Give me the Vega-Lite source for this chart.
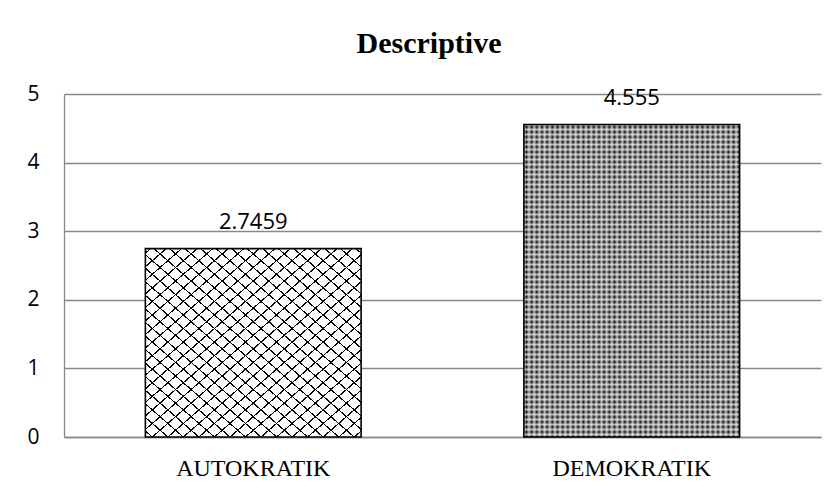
{
"$schema":"https://vega.github.io/schema/vega-lite/v6.json",
"width":757,"height":343,
"autosize":{"type":"none"},
"padding":{"left":64,"top":94,"right":16,"bottom":59},
"background":"#ffffff",
"title":{"text":"Descriptive","font":"Liberation Serif","fontSize":30,"fontWeight":"bold","color":"#000000","anchor":"middle","frame":"bounds","baseline":"alphabetic","offset":0,"dx":5},
"config":{"view":{"stroke":null}},
"data":{"values":[{"category":"AUTOKRATIK","value":2.7459},{"category":"DEMOKRATIK","value":4.555}]},
"encoding":{
"x":{"field":"category","type":"nominal","sort":["AUTOKRATIK","DEMOKRATIK"],"scale":{"paddingInner":0.43,"paddingOuter":0.215},"axis":{"title":null,"labelAngle":0,"labelFont":"Liberation Serif","labelFontSize":24,"labelColor":"#000000","labelPadding":19,"ticks":false,"domainColor":"#898989","domainWidth":1.3,"grid":false}},
"y":{"field":"value","type":"quantitative","scale":{"domain":[0,5],"nice":false},"axis":{"title":null,"values":[0,1,2,3,4,5],"labelFont":"Open Sans","labelFontSize":21,"labelColor":"#000000","labelPadding":25,"ticks":false,"domainColor":"#898989","domainWidth":1.3,"grid":true,"gridColor":"#898989","gridWidth":1.3}}
},
"layer":[
{"mark":{"type":"bar"},"encoding":{"color":{"field":"category","type":"nominal","scale":{"domain":["AUTOKRATIK","DEMOKRATIK"],"range":["#ffffff","#000000"]},"legend":null}}},
{"transform":[{"filter":"datum.category === 'AUTOKRATIK'"}],"mark":{"type":"bar","fill":{"gradient":"linear","x1":0,"y1":0,"x2":1,"y2":1,"stops":[
{"offset":0.01,"color":"transparent"},{"offset":0.01,"color":"#000"},{"offset":0.014,"color":"#000"},{"offset":0.014,"color":"transparent"},
{"offset":0.046,"color":"transparent"},{"offset":0.046,"color":"#000"},{"offset":0.05,"color":"#000"},{"offset":0.05,"color":"transparent"},
{"offset":0.082,"color":"transparent"},{"offset":0.082,"color":"#000"},{"offset":0.086,"color":"#000"},{"offset":0.086,"color":"transparent"},
{"offset":0.118,"color":"transparent"},{"offset":0.118,"color":"#000"},{"offset":0.122,"color":"#000"},{"offset":0.122,"color":"transparent"},
{"offset":0.154,"color":"transparent"},{"offset":0.154,"color":"#000"},{"offset":0.158,"color":"#000"},{"offset":0.158,"color":"transparent"},
{"offset":0.19,"color":"transparent"},{"offset":0.19,"color":"#000"},{"offset":0.194,"color":"#000"},{"offset":0.194,"color":"transparent"},
{"offset":0.226,"color":"transparent"},{"offset":0.226,"color":"#000"},{"offset":0.23,"color":"#000"},{"offset":0.23,"color":"transparent"},
{"offset":0.262,"color":"transparent"},{"offset":0.262,"color":"#000"},{"offset":0.266,"color":"#000"},{"offset":0.266,"color":"transparent"},
{"offset":0.298,"color":"transparent"},{"offset":0.298,"color":"#000"},{"offset":0.302,"color":"#000"},{"offset":0.302,"color":"transparent"},
{"offset":0.334,"color":"transparent"},{"offset":0.334,"color":"#000"},{"offset":0.338,"color":"#000"},{"offset":0.338,"color":"transparent"},
{"offset":0.37,"color":"transparent"},{"offset":0.37,"color":"#000"},{"offset":0.374,"color":"#000"},{"offset":0.374,"color":"transparent"},
{"offset":0.406,"color":"transparent"},{"offset":0.406,"color":"#000"},{"offset":0.41,"color":"#000"},{"offset":0.41,"color":"transparent"},
{"offset":0.442,"color":"transparent"},{"offset":0.442,"color":"#000"},{"offset":0.446,"color":"#000"},{"offset":0.446,"color":"transparent"},
{"offset":0.478,"color":"transparent"},{"offset":0.478,"color":"#000"},{"offset":0.482,"color":"#000"},{"offset":0.482,"color":"transparent"},
{"offset":0.514,"color":"transparent"},{"offset":0.514,"color":"#000"},{"offset":0.518,"color":"#000"},{"offset":0.518,"color":"transparent"},
{"offset":0.55,"color":"transparent"},{"offset":0.55,"color":"#000"},{"offset":0.554,"color":"#000"},{"offset":0.554,"color":"transparent"},
{"offset":0.586,"color":"transparent"},{"offset":0.586,"color":"#000"},{"offset":0.59,"color":"#000"},{"offset":0.59,"color":"transparent"},
{"offset":0.622,"color":"transparent"},{"offset":0.622,"color":"#000"},{"offset":0.626,"color":"#000"},{"offset":0.626,"color":"transparent"},
{"offset":0.658,"color":"transparent"},{"offset":0.658,"color":"#000"},{"offset":0.662,"color":"#000"},{"offset":0.662,"color":"transparent"},
{"offset":0.694,"color":"transparent"},{"offset":0.694,"color":"#000"},{"offset":0.698,"color":"#000"},{"offset":0.698,"color":"transparent"},
{"offset":0.73,"color":"transparent"},{"offset":0.73,"color":"#000"},{"offset":0.734,"color":"#000"},{"offset":0.734,"color":"transparent"},
{"offset":0.766,"color":"transparent"},{"offset":0.766,"color":"#000"},{"offset":0.77,"color":"#000"},{"offset":0.77,"color":"transparent"},
{"offset":0.802,"color":"transparent"},{"offset":0.802,"color":"#000"},{"offset":0.806,"color":"#000"},{"offset":0.806,"color":"transparent"},
{"offset":0.838,"color":"transparent"},{"offset":0.838,"color":"#000"},{"offset":0.842,"color":"#000"},{"offset":0.842,"color":"transparent"},
{"offset":0.874,"color":"transparent"},{"offset":0.874,"color":"#000"},{"offset":0.878,"color":"#000"},{"offset":0.878,"color":"transparent"},
{"offset":0.91,"color":"transparent"},{"offset":0.91,"color":"#000"},{"offset":0.914,"color":"#000"},{"offset":0.914,"color":"transparent"},
{"offset":0.946,"color":"transparent"},{"offset":0.946,"color":"#000"},{"offset":0.95,"color":"#000"},{"offset":0.95,"color":"transparent"},
{"offset":0.982,"color":"transparent"},{"offset":0.982,"color":"#000"},{"offset":0.986,"color":"#000"},{"offset":0.986,"color":"transparent"}
]}}},
{"transform":[{"filter":"datum.category === 'AUTOKRATIK'"}],"mark":{"type":"bar","fill":{"gradient":"linear","x1":1,"y1":0,"x2":0,"y2":1,"stops":[
{"offset":0.01,"color":"transparent"},{"offset":0.01,"color":"#000"},{"offset":0.014,"color":"#000"},{"offset":0.014,"color":"transparent"},
{"offset":0.046,"color":"transparent"},{"offset":0.046,"color":"#000"},{"offset":0.05,"color":"#000"},{"offset":0.05,"color":"transparent"},
{"offset":0.082,"color":"transparent"},{"offset":0.082,"color":"#000"},{"offset":0.086,"color":"#000"},{"offset":0.086,"color":"transparent"},
{"offset":0.118,"color":"transparent"},{"offset":0.118,"color":"#000"},{"offset":0.122,"color":"#000"},{"offset":0.122,"color":"transparent"},
{"offset":0.154,"color":"transparent"},{"offset":0.154,"color":"#000"},{"offset":0.158,"color":"#000"},{"offset":0.158,"color":"transparent"},
{"offset":0.19,"color":"transparent"},{"offset":0.19,"color":"#000"},{"offset":0.194,"color":"#000"},{"offset":0.194,"color":"transparent"},
{"offset":0.226,"color":"transparent"},{"offset":0.226,"color":"#000"},{"offset":0.23,"color":"#000"},{"offset":0.23,"color":"transparent"},
{"offset":0.262,"color":"transparent"},{"offset":0.262,"color":"#000"},{"offset":0.266,"color":"#000"},{"offset":0.266,"color":"transparent"},
{"offset":0.298,"color":"transparent"},{"offset":0.298,"color":"#000"},{"offset":0.302,"color":"#000"},{"offset":0.302,"color":"transparent"},
{"offset":0.334,"color":"transparent"},{"offset":0.334,"color":"#000"},{"offset":0.338,"color":"#000"},{"offset":0.338,"color":"transparent"},
{"offset":0.37,"color":"transparent"},{"offset":0.37,"color":"#000"},{"offset":0.374,"color":"#000"},{"offset":0.374,"color":"transparent"},
{"offset":0.406,"color":"transparent"},{"offset":0.406,"color":"#000"},{"offset":0.41,"color":"#000"},{"offset":0.41,"color":"transparent"},
{"offset":0.442,"color":"transparent"},{"offset":0.442,"color":"#000"},{"offset":0.446,"color":"#000"},{"offset":0.446,"color":"transparent"},
{"offset":0.478,"color":"transparent"},{"offset":0.478,"color":"#000"},{"offset":0.482,"color":"#000"},{"offset":0.482,"color":"transparent"},
{"offset":0.514,"color":"transparent"},{"offset":0.514,"color":"#000"},{"offset":0.518,"color":"#000"},{"offset":0.518,"color":"transparent"},
{"offset":0.55,"color":"transparent"},{"offset":0.55,"color":"#000"},{"offset":0.554,"color":"#000"},{"offset":0.554,"color":"transparent"},
{"offset":0.586,"color":"transparent"},{"offset":0.586,"color":"#000"},{"offset":0.59,"color":"#000"},{"offset":0.59,"color":"transparent"},
{"offset":0.622,"color":"transparent"},{"offset":0.622,"color":"#000"},{"offset":0.626,"color":"#000"},{"offset":0.626,"color":"transparent"},
{"offset":0.658,"color":"transparent"},{"offset":0.658,"color":"#000"},{"offset":0.662,"color":"#000"},{"offset":0.662,"color":"transparent"},
{"offset":0.694,"color":"transparent"},{"offset":0.694,"color":"#000"},{"offset":0.698,"color":"#000"},{"offset":0.698,"color":"transparent"},
{"offset":0.73,"color":"transparent"},{"offset":0.73,"color":"#000"},{"offset":0.734,"color":"#000"},{"offset":0.734,"color":"transparent"},
{"offset":0.766,"color":"transparent"},{"offset":0.766,"color":"#000"},{"offset":0.77,"color":"#000"},{"offset":0.77,"color":"transparent"},
{"offset":0.802,"color":"transparent"},{"offset":0.802,"color":"#000"},{"offset":0.806,"color":"#000"},{"offset":0.806,"color":"transparent"},
{"offset":0.838,"color":"transparent"},{"offset":0.838,"color":"#000"},{"offset":0.842,"color":"#000"},{"offset":0.842,"color":"transparent"},
{"offset":0.874,"color":"transparent"},{"offset":0.874,"color":"#000"},{"offset":0.878,"color":"#000"},{"offset":0.878,"color":"transparent"},
{"offset":0.91,"color":"transparent"},{"offset":0.91,"color":"#000"},{"offset":0.914,"color":"#000"},{"offset":0.914,"color":"transparent"},
{"offset":0.946,"color":"transparent"},{"offset":0.946,"color":"#000"},{"offset":0.95,"color":"#000"},{"offset":0.95,"color":"transparent"},
{"offset":0.982,"color":"transparent"},{"offset":0.982,"color":"#000"},{"offset":0.986,"color":"#000"},{"offset":0.986,"color":"transparent"}
]}}},
{"transform":[{"filter":"datum.category === 'DEMOKRATIK'"}],"mark":{"type":"bar","fill":{"gradient":"linear","x1":0,"y1":0,"x2":0,"y2":1,"stops":[
{"offset":0,"color":"rgba(255,255,255,0.68)"},{"offset":0.008,"color":"rgba(255,255,255,0)"},{"offset":0.016,"color":"rgba(255,255,255,0.68)"},{"offset":0.024,"color":"rgba(255,255,255,0)"},
{"offset":0.032,"color":"rgba(255,255,255,0.68)"},{"offset":0.04,"color":"rgba(255,255,255,0)"},{"offset":0.048,"color":"rgba(255,255,255,0.68)"},{"offset":0.056,"color":"rgba(255,255,255,0)"},
{"offset":0.064,"color":"rgba(255,255,255,0.68)"},{"offset":0.072,"color":"rgba(255,255,255,0)"},{"offset":0.08,"color":"rgba(255,255,255,0.68)"},{"offset":0.088,"color":"rgba(255,255,255,0)"},
{"offset":0.096,"color":"rgba(255,255,255,0.68)"},{"offset":0.104,"color":"rgba(255,255,255,0)"},{"offset":0.112,"color":"rgba(255,255,255,0.68)"},{"offset":0.12,"color":"rgba(255,255,255,0)"},
{"offset":0.128,"color":"rgba(255,255,255,0.68)"},{"offset":0.136,"color":"rgba(255,255,255,0)"},{"offset":0.144,"color":"rgba(255,255,255,0.68)"},{"offset":0.152,"color":"rgba(255,255,255,0)"},
{"offset":0.16,"color":"rgba(255,255,255,0.68)"},{"offset":0.168,"color":"rgba(255,255,255,0)"},{"offset":0.176,"color":"rgba(255,255,255,0.68)"},{"offset":0.184,"color":"rgba(255,255,255,0)"},
{"offset":0.192,"color":"rgba(255,255,255,0.68)"},{"offset":0.2,"color":"rgba(255,255,255,0)"},{"offset":0.208,"color":"rgba(255,255,255,0.68)"},{"offset":0.216,"color":"rgba(255,255,255,0)"},
{"offset":0.224,"color":"rgba(255,255,255,0.68)"},{"offset":0.232,"color":"rgba(255,255,255,0)"},{"offset":0.24,"color":"rgba(255,255,255,0.68)"},{"offset":0.248,"color":"rgba(255,255,255,0)"},
{"offset":0.256,"color":"rgba(255,255,255,0.68)"},{"offset":0.264,"color":"rgba(255,255,255,0)"},{"offset":0.272,"color":"rgba(255,255,255,0.68)"},{"offset":0.28,"color":"rgba(255,255,255,0)"},
{"offset":0.288,"color":"rgba(255,255,255,0.68)"},{"offset":0.296,"color":"rgba(255,255,255,0)"},{"offset":0.304,"color":"rgba(255,255,255,0.68)"},{"offset":0.312,"color":"rgba(255,255,255,0)"},
{"offset":0.32,"color":"rgba(255,255,255,0.68)"},{"offset":0.328,"color":"rgba(255,255,255,0)"},{"offset":0.336,"color":"rgba(255,255,255,0.68)"},{"offset":0.344,"color":"rgba(255,255,255,0)"},
{"offset":0.352,"color":"rgba(255,255,255,0.68)"},{"offset":0.36,"color":"rgba(255,255,255,0)"},{"offset":0.368,"color":"rgba(255,255,255,0.68)"},{"offset":0.376,"color":"rgba(255,255,255,0)"},
{"offset":0.384,"color":"rgba(255,255,255,0.68)"},{"offset":0.392,"color":"rgba(255,255,255,0)"},{"offset":0.4,"color":"rgba(255,255,255,0.68)"},{"offset":0.408,"color":"rgba(255,255,255,0)"},
{"offset":0.416,"color":"rgba(255,255,255,0.68)"},{"offset":0.424,"color":"rgba(255,255,255,0)"},{"offset":0.432,"color":"rgba(255,255,255,0.68)"},{"offset":0.44,"color":"rgba(255,255,255,0)"},
{"offset":0.448,"color":"rgba(255,255,255,0.68)"},{"offset":0.456,"color":"rgba(255,255,255,0)"},{"offset":0.464,"color":"rgba(255,255,255,0.68)"},{"offset":0.472,"color":"rgba(255,255,255,0)"},
{"offset":0.48,"color":"rgba(255,255,255,0.68)"},{"offset":0.488,"color":"rgba(255,255,255,0)"},{"offset":0.496,"color":"rgba(255,255,255,0.68)"},{"offset":0.504,"color":"rgba(255,255,255,0)"},
{"offset":0.512,"color":"rgba(255,255,255,0.68)"},{"offset":0.52,"color":"rgba(255,255,255,0)"},{"offset":0.528,"color":"rgba(255,255,255,0.68)"},{"offset":0.536,"color":"rgba(255,255,255,0)"},
{"offset":0.544,"color":"rgba(255,255,255,0.68)"},{"offset":0.552,"color":"rgba(255,255,255,0)"},{"offset":0.56,"color":"rgba(255,255,255,0.68)"},{"offset":0.568,"color":"rgba(255,255,255,0)"},
{"offset":0.576,"color":"rgba(255,255,255,0.68)"},{"offset":0.584,"color":"rgba(255,255,255,0)"},{"offset":0.592,"color":"rgba(255,255,255,0.68)"},{"offset":0.6,"color":"rgba(255,255,255,0)"},
{"offset":0.608,"color":"rgba(255,255,255,0.68)"},{"offset":0.616,"color":"rgba(255,255,255,0)"},{"offset":0.624,"color":"rgba(255,255,255,0.68)"},{"offset":0.632,"color":"rgba(255,255,255,0)"},
{"offset":0.64,"color":"rgba(255,255,255,0.68)"},{"offset":0.648,"color":"rgba(255,255,255,0)"},{"offset":0.656,"color":"rgba(255,255,255,0.68)"},{"offset":0.664,"color":"rgba(255,255,255,0)"},
{"offset":0.672,"color":"rgba(255,255,255,0.68)"},{"offset":0.68,"color":"rgba(255,255,255,0)"},{"offset":0.688,"color":"rgba(255,255,255,0.68)"},{"offset":0.696,"color":"rgba(255,255,255,0)"},
{"offset":0.704,"color":"rgba(255,255,255,0.68)"},{"offset":0.712,"color":"rgba(255,255,255,0)"},{"offset":0.72,"color":"rgba(255,255,255,0.68)"},{"offset":0.728,"color":"rgba(255,255,255,0)"},
{"offset":0.736,"color":"rgba(255,255,255,0.68)"},{"offset":0.744,"color":"rgba(255,255,255,0)"},{"offset":0.752,"color":"rgba(255,255,255,0.68)"},{"offset":0.76,"color":"rgba(255,255,255,0)"},
{"offset":0.768,"color":"rgba(255,255,255,0.68)"},{"offset":0.776,"color":"rgba(255,255,255,0)"},{"offset":0.784,"color":"rgba(255,255,255,0.68)"},{"offset":0.792,"color":"rgba(255,255,255,0)"},
{"offset":0.8,"color":"rgba(255,255,255,0.68)"},{"offset":0.808,"color":"rgba(255,255,255,0)"},{"offset":0.816,"color":"rgba(255,255,255,0.68)"},{"offset":0.824,"color":"rgba(255,255,255,0)"},
{"offset":0.832,"color":"rgba(255,255,255,0.68)"},{"offset":0.84,"color":"rgba(255,255,255,0)"},{"offset":0.848,"color":"rgba(255,255,255,0.68)"},{"offset":0.856,"color":"rgba(255,255,255,0)"},
{"offset":0.864,"color":"rgba(255,255,255,0.68)"},{"offset":0.872,"color":"rgba(255,255,255,0)"},{"offset":0.88,"color":"rgba(255,255,255,0.68)"},{"offset":0.888,"color":"rgba(255,255,255,0)"},
{"offset":0.896,"color":"rgba(255,255,255,0.68)"},{"offset":0.904,"color":"rgba(255,255,255,0)"},{"offset":0.912,"color":"rgba(255,255,255,0.68)"},{"offset":0.92,"color":"rgba(255,255,255,0)"},
{"offset":0.928,"color":"rgba(255,255,255,0.68)"},{"offset":0.936,"color":"rgba(255,255,255,0)"},{"offset":0.944,"color":"rgba(255,255,255,0.68)"},{"offset":0.952,"color":"rgba(255,255,255,0)"},
{"offset":0.96,"color":"rgba(255,255,255,0.68)"},{"offset":0.968,"color":"rgba(255,255,255,0)"},{"offset":0.976,"color":"rgba(255,255,255,0.68)"},{"offset":0.984,"color":"rgba(255,255,255,0)"},
{"offset":0.992,"color":"rgba(255,255,255,0.68)"},{"offset":1,"color":"rgba(255,255,255,0)"}
]}}},
{"transform":[{"filter":"datum.category === 'DEMOKRATIK'"}],"mark":{"type":"bar","fill":{"gradient":"linear","x1":0,"y1":0,"x2":1,"y2":0,"stops":[
{"offset":0,"color":"rgba(255,255,255,0.68)"},{"offset":0.012,"color":"rgba(255,255,255,0)"},{"offset":0.024,"color":"rgba(255,255,255,0.68)"},{"offset":0.036,"color":"rgba(255,255,255,0)"},
{"offset":0.048,"color":"rgba(255,255,255,0.68)"},{"offset":0.06,"color":"rgba(255,255,255,0)"},{"offset":0.072,"color":"rgba(255,255,255,0.68)"},{"offset":0.084,"color":"rgba(255,255,255,0)"},
{"offset":0.096,"color":"rgba(255,255,255,0.68)"},{"offset":0.108,"color":"rgba(255,255,255,0)"},{"offset":0.12,"color":"rgba(255,255,255,0.68)"},{"offset":0.132,"color":"rgba(255,255,255,0)"},
{"offset":0.144,"color":"rgba(255,255,255,0.68)"},{"offset":0.156,"color":"rgba(255,255,255,0)"},{"offset":0.168,"color":"rgba(255,255,255,0.68)"},{"offset":0.18,"color":"rgba(255,255,255,0)"},
{"offset":0.192,"color":"rgba(255,255,255,0.68)"},{"offset":0.204,"color":"rgba(255,255,255,0)"},{"offset":0.216,"color":"rgba(255,255,255,0.68)"},{"offset":0.228,"color":"rgba(255,255,255,0)"},
{"offset":0.24,"color":"rgba(255,255,255,0.68)"},{"offset":0.252,"color":"rgba(255,255,255,0)"},{"offset":0.264,"color":"rgba(255,255,255,0.68)"},{"offset":0.276,"color":"rgba(255,255,255,0)"},
{"offset":0.288,"color":"rgba(255,255,255,0.68)"},{"offset":0.3,"color":"rgba(255,255,255,0)"},{"offset":0.312,"color":"rgba(255,255,255,0.68)"},{"offset":0.324,"color":"rgba(255,255,255,0)"},
{"offset":0.336,"color":"rgba(255,255,255,0.68)"},{"offset":0.348,"color":"rgba(255,255,255,0)"},{"offset":0.36,"color":"rgba(255,255,255,0.68)"},{"offset":0.372,"color":"rgba(255,255,255,0)"},
{"offset":0.384,"color":"rgba(255,255,255,0.68)"},{"offset":0.396,"color":"rgba(255,255,255,0)"},{"offset":0.408,"color":"rgba(255,255,255,0.68)"},{"offset":0.42,"color":"rgba(255,255,255,0)"},
{"offset":0.432,"color":"rgba(255,255,255,0.68)"},{"offset":0.444,"color":"rgba(255,255,255,0)"},{"offset":0.456,"color":"rgba(255,255,255,0.68)"},{"offset":0.468,"color":"rgba(255,255,255,0)"},
{"offset":0.48,"color":"rgba(255,255,255,0.68)"},{"offset":0.492,"color":"rgba(255,255,255,0)"},{"offset":0.504,"color":"rgba(255,255,255,0.68)"},{"offset":0.516,"color":"rgba(255,255,255,0)"},
{"offset":0.528,"color":"rgba(255,255,255,0.68)"},{"offset":0.54,"color":"rgba(255,255,255,0)"},{"offset":0.552,"color":"rgba(255,255,255,0.68)"},{"offset":0.564,"color":"rgba(255,255,255,0)"},
{"offset":0.576,"color":"rgba(255,255,255,0.68)"},{"offset":0.588,"color":"rgba(255,255,255,0)"},{"offset":0.6,"color":"rgba(255,255,255,0.68)"},{"offset":0.612,"color":"rgba(255,255,255,0)"},
{"offset":0.624,"color":"rgba(255,255,255,0.68)"},{"offset":0.636,"color":"rgba(255,255,255,0)"},{"offset":0.648,"color":"rgba(255,255,255,0.68)"},{"offset":0.66,"color":"rgba(255,255,255,0)"},
{"offset":0.672,"color":"rgba(255,255,255,0.68)"},{"offset":0.684,"color":"rgba(255,255,255,0)"},{"offset":0.696,"color":"rgba(255,255,255,0.68)"},{"offset":0.708,"color":"rgba(255,255,255,0)"},
{"offset":0.72,"color":"rgba(255,255,255,0.68)"},{"offset":0.732,"color":"rgba(255,255,255,0)"},{"offset":0.744,"color":"rgba(255,255,255,0.68)"},{"offset":0.756,"color":"rgba(255,255,255,0)"},
{"offset":0.768,"color":"rgba(255,255,255,0.68)"},{"offset":0.78,"color":"rgba(255,255,255,0)"},{"offset":0.792,"color":"rgba(255,255,255,0.68)"},{"offset":0.804,"color":"rgba(255,255,255,0)"},
{"offset":0.816,"color":"rgba(255,255,255,0.68)"},{"offset":0.828,"color":"rgba(255,255,255,0)"},{"offset":0.84,"color":"rgba(255,255,255,0.68)"},{"offset":0.852,"color":"rgba(255,255,255,0)"},
{"offset":0.864,"color":"rgba(255,255,255,0.68)"},{"offset":0.876,"color":"rgba(255,255,255,0)"},{"offset":0.888,"color":"rgba(255,255,255,0.68)"},{"offset":0.9,"color":"rgba(255,255,255,0)"},
{"offset":0.912,"color":"rgba(255,255,255,0.68)"},{"offset":0.924,"color":"rgba(255,255,255,0)"},{"offset":0.936,"color":"rgba(255,255,255,0.68)"},{"offset":0.948,"color":"rgba(255,255,255,0)"},
{"offset":0.96,"color":"rgba(255,255,255,0.68)"},{"offset":0.972,"color":"rgba(255,255,255,0)"},{"offset":0.984,"color":"rgba(255,255,255,0.68)"},{"offset":0.996,"color":"rgba(255,255,255,0)"}
]}}},
{"mark":{"type":"bar","fill":"transparent","stroke":"#000000","strokeWidth":1.6}},
{"mark":{"type":"text","font":"Open Sans","fontSize":22,"color":"#000000","baseline":"alphabetic","dy":-20},"encoding":{"text":{"field":"value","type":"quantitative"}}}
]
}
